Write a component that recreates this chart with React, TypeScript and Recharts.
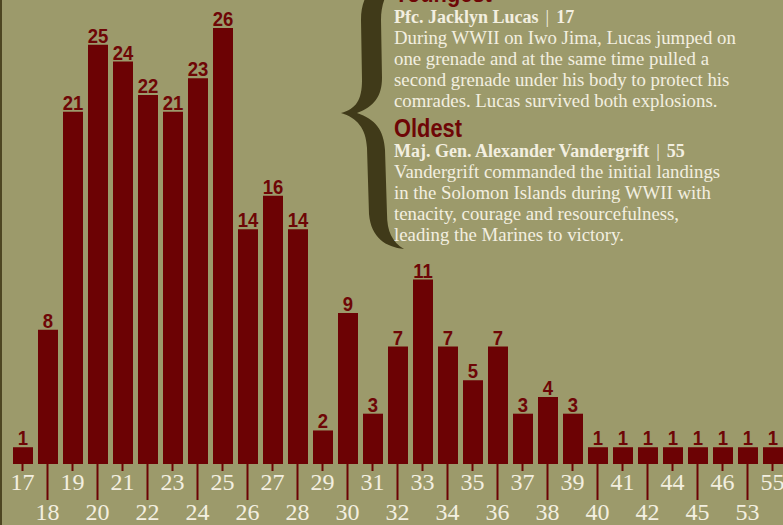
import { Bar, BarChart, LabelList, XAxis, YAxis } from 'recharts'

const ages = [
  '17', '18', '19', '20', '21', '22', '23', '24', '25', '26', '27', '28', '29', '30', '31', '32',
  '33', '34', '35', '36', '37', '38', '39', '40', '41', '42', '44', '45', '46', '53', '55',
]
const counts = [
  1, 8, 21, 25, 24, 22, 21, 23, 26, 14, 16, 14, 2, 9, 3, 7, 11, 7, 5, 7, 3, 4, 3, 1, 1, 1, 1, 1, 1, 1, 1,
]

const youngestTitle = 'Youngest'
const youngestName = 'Pfc. Jacklyn Lucas'
const youngestAge = '17'
const youngestLines = [
  'During WWII on Iwo Jima, Lucas jumped on',
  'one grenade and at the same time pulled a',
  'second grenade under his body to protect his',
  'comrades. Lucas survived both explosions.',
]
const oldestTitle = 'Oldest'
const oldestName = 'Maj. Gen. Alexander Vandergrift'
const oldestAge = '55'
const oldestLines = [
  'Vandergrift commanded the initial landings',
  'in the Solomon Islands during WWII with',
  'tenacity, courage and resourcefulness,',
  'leading the Marines to victory.',
]

const WIDTH = 783
const HEIGHT = 525
const BG = '#9c9a6b'
const BAR = '#6c0204'
const LABEL_RED = '#6e0606'
const CREAM = '#f3efe0'
const BRACE = '#403a19'
const SANS = '"Liberation Sans", Arial, sans-serif'
const SERIF = '"Liberation Serif", "DejaVu Serif", serif'

const chartData = ages.map((age, i) => ({ age, count: counts[i] }))

// no condensed face is installed, so squeeze a bold sans horizontally
function NarrowText({
  x,
  y,
  size,
  squeeze,
  anchor = 'start',
  children,
}: {
  x: number
  y: number
  size: number
  squeeze: number
  anchor?: 'start' | 'middle'
  children: any
}) {
  return (
    <g transform={`translate(${x},${y}) scale(${squeeze},1)`}>
      <text x={0} y={0} textAnchor={anchor} fill={LABEL_RED} fontFamily={SANS} fontWeight="bold" fontSize={size}>
        {children}
      </text>
    </g>
  )
}

function AgeTick(props: any) {
  const { x, y, payload, index } = props
  const lower = index % 2 === 1
  return (
    <g>
      <line x1={x} x2={x} y1={y} y2={y + (lower ? 36 : 7)} stroke={BAR} strokeWidth={2} />
      <text
        x={x}
        y={y + (lower ? 56 : 26)}
        textAnchor="middle"
        fill={CREAM}
        fontFamily={SERIF}
        fontSize={24}
      >
        {payload.value}
      </text>
    </g>
  )
}

function CountLabel(props: any) {
  const { x, y, width, value } = props
  return (
    <NarrowText x={x + width / 2} y={y - 2} size={21} squeeze={0.88} anchor="middle">
      {value}
    </NarrowText>
  )
}

function NameLine({ y, name, age }: { y: number; name: string; age: string }) {
  return (
    <text x={394} y={y} fill={CREAM} fontFamily={SERIF} fontWeight="bold" fontSize={18}>
      {name}
      <tspan fontWeight="normal" dx={7}>|</tspan>
      <tspan dx={7}>{age}</tspan>
    </text>
  )
}

function Notes() {
  return (
    <svg
      width={WIDTH}
      height={HEIGHT}
      style={{ position: 'absolute', left: 0, top: 0, pointerEvents: 'none' }}
    >
      <path
        d="M 404 -24 C 373 -19 361 -6 361 20 L 362 80 C 362 100 356 109 341 113 C 357 118 366 128 367 148 L 369 214 C 371 238 386 247 404 249 C 392 242 387 231 387 214 L 385 150 C 384 130 375 119 357 113 C 374 107 382 96 382 78 L 381 20 C 381 0 389 -15 404 -24 Z"
        fill={BRACE}
      />
      <NarrowText x={394} y={2} size={26} squeeze={0.84}>
        {youngestTitle}
      </NarrowText>
      <NameLine y={23} name={youngestName} age={youngestAge} />
      {youngestLines.map((line, i) => (
        <text key={line} x={394} y={44 + i * 21} fill={CREAM} fontFamily={SERIF} fontSize={18.8}>
          {line}
        </text>
      ))}
      <NarrowText x={394} y={137} size={26} squeeze={0.84}>
        {oldestTitle}
      </NarrowText>
      <NameLine y={157} name={oldestName} age={oldestAge} />
      {oldestLines.map((line, i) => (
        <text key={line} x={394} y={178 + i * 21} fill={CREAM} fontFamily={SERIF} fontSize={18.8}>
          {line}
        </text>
      ))}
    </svg>
  )
}

export default function App() {
  return (
    <div
      style={{
        position: 'fixed',
        left: 0,
        top: 0,
        width: WIDTH,
        height: HEIGHT,
        background: BG,
        overflow: 'hidden',
      }}
    >
      <div style={{ position: 'absolute', left: 0, top: 0, width: 2, height: HEIGHT, background: '#4d4622' }} />
      <BarChart
        width={WIDTH}
        height={HEIGHT}
        data={chartData}
        margin={{ top: 28, right: -2, bottom: 0, left: 10 }}
        barSize={20}
      >
        <YAxis hide domain={[0, 26]} />
        <XAxis
          dataKey="age"
          height={61}
          interval={0}
          axisLine={false}
          tickLine={false}
          tickSize={0}
          tickMargin={0}
          tick={<AgeTick />}
        />
        <Bar dataKey="count" fill={BAR} isAnimationActive={false}>
          <LabelList dataKey="count" content={<CountLabel />} />
        </Bar>
      </BarChart>
      <Notes />
    </div>
  )
}
